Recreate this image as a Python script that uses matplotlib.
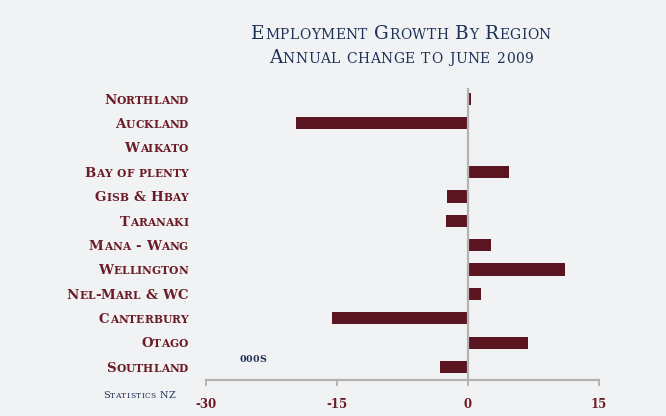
import matplotlib
matplotlib.use("Agg")
import matplotlib.pyplot as plt
from matplotlib.font_manager import FontProperties, findfont, get_font
from matplotlib.transforms import offset_copy, blended_transform_factory

# data (thousands, annual change to June 2009)
regions = ["Northland", "Auckland", "Waikato", "Bay of plenty", "Gisb & Hbay", "Taranaki",
           "Mana - Wang", "Wellington", "Nel-Marl & WC", "Canterbury", "Otago", "Southland"]
change = [0.3, -19.7, 0.0, 4.7, -2.4, -2.5, 2.6, 11.1, 1.5, -15.6, 6.9, -3.2]
ticks = [-30, -15, 0, 15]
tick_labels = ["-30", "-15", "0", "15"]

bg = "#f1f2f4"
bar_col = "#5b1520"
label_col = "#6b1c26"
navy = "#1d3159"
grey = "#b3b3b3"
serif = "DejaVu Serif"


def advance(ch, prop):
    font = get_font(findfont(prop))
    font.set_size(prop.get_size_in_points(), 72)
    g = font.load_char(ord(ch))
    return g.linearHoriAdvance / 65536


def small_caps(x, y, s, size, trans, color, ha="left", weight="normal",
               ratio=0.78, dy=0, digits_small=False, track=0.0):
    # fake small caps: lowercase letters drawn as smaller capitals
    pieces = []
    for ch in s:
        small = ch.islower() or (digits_small and ch.isdigit())
        c = ch.upper() if small else ch
        p = FontProperties(family=serif, weight=weight, size=size * ratio if small else size)
        pieces.append((c, p, advance(c, p) + track))
    total = sum(pc[2] for pc in pieces) - track
    pos = {"left": 0, "center": -total / 2, "right": -total}[ha]
    for c, p, w in pieces:
        if c != " ":
            tr = offset_copy(trans, fig=fig, x=pos, y=dy, units="points")
            fig.text(x, y, c, fontproperties=p, color=color, transform=tr,
                     ha="left", va="baseline")
        pos += w


fig = plt.figure(figsize=(6.66, 4.16), dpi=100, facecolor=bg)
ax = fig.add_axes([206 / 666, 1 - 380 / 416, 393 / 666, 292 / 416])
ax.set_facecolor(bg)

ypos = list(range(len(regions) - 1, -1, -1))
ax.barh(ypos, change, height=0.5, color=bar_col, zorder=2)
ax.axvline(0, color=grey, lw=1.6, zorder=3)
ax.set_xlim(-30, 15)
ax.set_ylim(-0.53, 11.45)

for side in ["left", "right", "top"]:
    ax.spines[side].set_visible(False)
ax.spines["bottom"].set_color(grey)
ax.spines["bottom"].set_linewidth(1.6)
ax.set_yticks([])
ax.set_xticks(ticks)
ax.set_xticklabels(tick_labels, fontfamily=serif, fontweight="bold", fontsize=8.5, color=label_col)
ax.tick_params(axis="x", direction="out", length=4, width=1.4, color=grey, pad=9)

# region labels
lab_tr = blended_transform_factory(fig.transFigure, ax.transData)
for name, yv in zip(regions, ypos):
    small_caps(188 / 666, yv, name, 9.6, lab_tr, label_col, ha="right",
               weight="bold", ratio=0.8, dy=-3.4, track=0.1)

# title
small_caps(401 / 666, 1 - 39 / 416, "Employment Growth By Region", 13.3,
           fig.transFigure, navy, ha="center", ratio=0.75, track=0.3)
small_caps(401 / 666, 1 - 63 / 416, "Annual change to june 2009", 13.3,
           fig.transFigure, navy, ha="center", ratio=0.75, digits_small=True, track=0.3)

small_caps(239 / 666, 1 - 362 / 416, "000s", 9.0, fig.transFigure, navy,
           weight="bold", ratio=0.75, digits_small=True, track=0.3)
small_caps(103 / 666, 1 - 398 / 416, "Statistics NZ", 7.0, fig.transFigure, navy,
           ratio=0.78, track=0.25)

fig.savefig("out.png", dpi=100, facecolor=bg)
